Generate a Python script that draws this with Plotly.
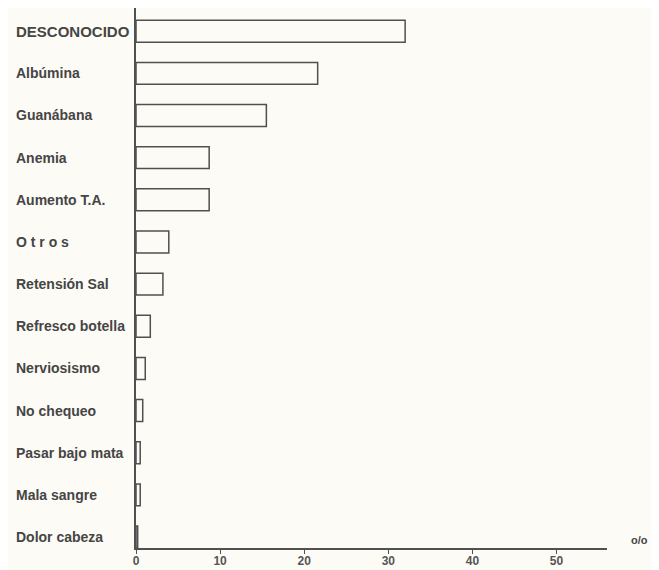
import plotly.graph_objects as go

# Data (top to bottom as in the chart)
categories = ["DESCONOCIDO", "Albúmina", "Guanábana", "Anemia", "Aumento T.A.",
              "O t r o s", "Retensión Sal", "Refresco botella", "Nerviosismo",
              "No chequeo", "Pasar bajo mata", "Mala sangre", "Dolor cabeza"]
values = [32, 21.6, 15.5, 8.7, 8.7, 3.9, 3.2, 1.7, 1.1, 0.8, 0.5, 0.5, 0.2]
x_ticks = [0, 10, 20, 30, 40, 50]
unit_label = "o/o"

BG = "#fcfbf5"
INK = "#505050"
TXT = "#454545"
FONT = "Liberation Sans, Arial, sans-serif"

cats_bt = categories[::-1]
vals_bt = values[::-1]

fig = go.Figure()
fig.add_trace(go.Bar(
    x=vals_bt, y=cats_bt, orientation="h", width=0.52,
    marker=dict(color=BG, line=dict(color=INK, width=1.5)),
    hoverinfo="x+y", showlegend=False,
))

for c in cats_bt:
    fig.add_annotation(
        x=-0.259, xref="paper", y=c, yref="y", text=c, showarrow=False,
        xanchor="left", yanchor="middle",
        font=dict(family=FONT, size=15 if c == "DESCONOCIDO" else 14,
                  color=TXT, weight="bold"),
    )

fig.add_annotation(x=1.0, xref="paper", y=0, yref="paper", xanchor="left",
                   yanchor="middle", xshift=22, yshift=8, text=unit_label,
                   showarrow=False,
                   font=dict(family=FONT, size=11, color=TXT, weight="bold"))

fig.update_layout(
    width=651, height=562,
    margin=dict(l=128, r=52, t=0, b=22),
    paper_bgcolor=BG, plot_bgcolor=BG,
    xaxis=dict(range=[0, 56], tickvals=x_ticks, showgrid=False, zeroline=False,
               showline=True, linecolor=INK, linewidth=1.6,
               ticks="outside", ticklen=4, tickwidth=1.2, tickcolor=INK,
               ticklabelstandoff=-3,
               tickfont=dict(family=FONT, size=12, color="#555555", weight="bold")),
    yaxis=dict(range=[-0.26, 12.55], showgrid=False, zeroline=False,
               showticklabels=False, showline=True, linecolor=INK, linewidth=1.6,
               ticks=""),
)

fig.write_html("out.html")
